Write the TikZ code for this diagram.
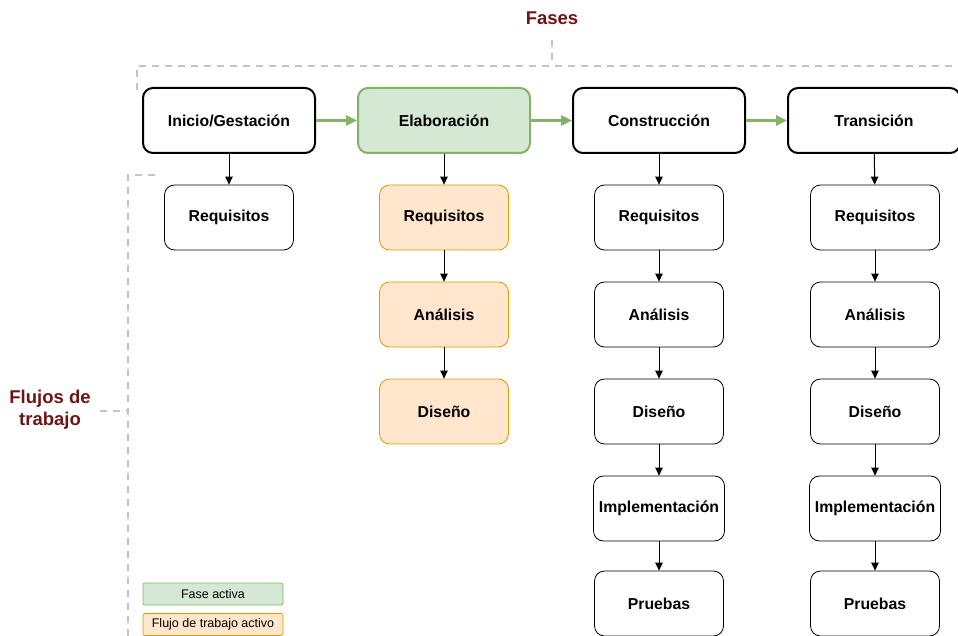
\documentclass[tikz,border=0pt]{standalone}
\usepackage{fontspec}
\setmainfont{Liberation Sans}
\usetikzlibrary{arrows.meta}
\definecolor{lblred}{HTML}{6E1414}
\definecolor{gfill}{HTML}{D5E8D4}
\definecolor{gdraw}{HTML}{82B366}
\definecolor{ofill}{HTML}{FFE6CC}
\definecolor{odraw}{HTML}{D79B00}
\definecolor{dashgray}{HTML}{C4C4C4}
\tikzset{
  phase/.style={draw=black, line width=2pt, rounded corners=10pt, minimum width=172pt, minimum height=65pt, font=\fontsize{15.8}{18}\selectfont\bfseries, fill=white},
  flow/.style={draw=black, line width=0.8pt, rounded corners=10pt, minimum width=129pt, minimum height=65pt, font=\fontsize{15.8}{18}\selectfont\bfseries, fill=white},
  gphase/.style={phase, fill=gfill, draw=gdraw},
  oflow/.style={flow, fill=ofill, draw=odraw},
  down/.style={-{Triangle[length=8pt,width=7.5pt]}, line width=1pt, black},
  garr/.style={-{Triangle[length=11pt,width=10pt]}, line width=2.4pt, gdraw},
  guide/.style={draw=dashgray, line width=1.4pt, dash pattern=on 7pt off 6pt},
  lbl/.style={text=lblred, font=\fontsize{18.5}{22}\selectfont\bfseries, align=center},
  legend/.style={draw, line width=0.7pt, rounded corners=2pt, minimum width=140pt, minimum height=22pt, font=\fontsize{12.5}{14}\selectfont, inner sep=1pt}
}
\begin{document}
\begin{tikzpicture}[x=1pt,y=-1pt]
\useasboundingbox (0,0) rectangle (958,636);
% guides
\node[lbl] (fases) at (552,18) {Fases};
\coordinate (ft) at (552,40);
\coordinate (fb) at (552,66);
\coordinate (tl) at (137,66);
\coordinate (tr) at (958,66);
\coordinate (tld) at (137,90);
\draw[guide] (ft) -- (fb);
\draw[guide] (tld) -- (tl) -- (tr);
\node[lbl] (flujos) at (50,410) {Flujos de\\trabajo};
\coordinate (lt) at (155,175);
\coordinate (lc) at (128,175);
\coordinate (lb) at (128,636);
\coordinate (lm) at (128,411);
\coordinate (lf) at (100,411);
\draw[guide] (lt) -- (lc) -- (lb);
\draw[guide] (lf) -- (lm);
% phases
\node[phase] (p1) at (229,120.5) {Inicio/Gestación};
\node[gphase] (p2) at (444,120.5) {Elaboración};
\node[phase] (p3) at (659,120.5) {Construcción};
\node[phase] (p4) at (874,120.5) {Transición};
\draw[garr] (p1) -- (p2);
\draw[garr] (p2) -- (p3);
\draw[garr] (p3) -- (p4);
% column 1
\node[flow] (a1) at (229,217.5) {Requisitos};
\draw[down] (p1) -- (a1);
% column 2
\node[oflow] (b1) at (444,217.5) {Requisitos};
\node[oflow] (b2) at (444,314.5) {Análisis};
\node[oflow] (b3) at (444,411.5) {Diseño};
\draw[down] (p2) -- (b1);
\draw[down] (b1) -- (b2);
\draw[down] (b2) -- (b3);
% column 3
\node[flow] (c1) at (659,217.5) {Requisitos};
\node[flow] (c2) at (659,314.5) {Análisis};
\node[flow] (c3) at (659,411.5) {Diseño};
\node[flow, minimum width=131pt, inner sep=1pt] (c4) at (659,508.5) {Implementación};
\node[flow] (c5) at (659,603.5) {Pruebas};
\draw[down] (p3) -- (c1);
\draw[down] (c1) -- (c2);
\draw[down] (c2) -- (c3);
\draw[down] (c3) -- (c4);
\draw[down] (c4) -- (c5);
% column 4
\node[flow] (d1) at (875,217.5) {Requisitos};
\node[flow] (d2) at (875,314.5) {Análisis};
\node[flow] (d3) at (875,411.5) {Diseño};
\node[flow, minimum width=131pt, inner sep=1pt] (d4) at (875,508.5) {Implementación};
\node[flow] (d5) at (875,603.5) {Pruebas};
\draw[down] (p4) -- (d1);
\draw[down] (d1) -- (d2);
\draw[down] (d2) -- (d3);
\draw[down] (d3) -- (d4);
\draw[down] (d4) -- (d5);
% legend
\node[legend, fill=gfill, draw=gdraw] (lg1) at (213,594) {Fase activa};
\node[legend, fill=ofill, draw=odraw] (lg2) at (213,624.5) {Flujo de trabajo activo};
\end{tikzpicture}
\end{document}
